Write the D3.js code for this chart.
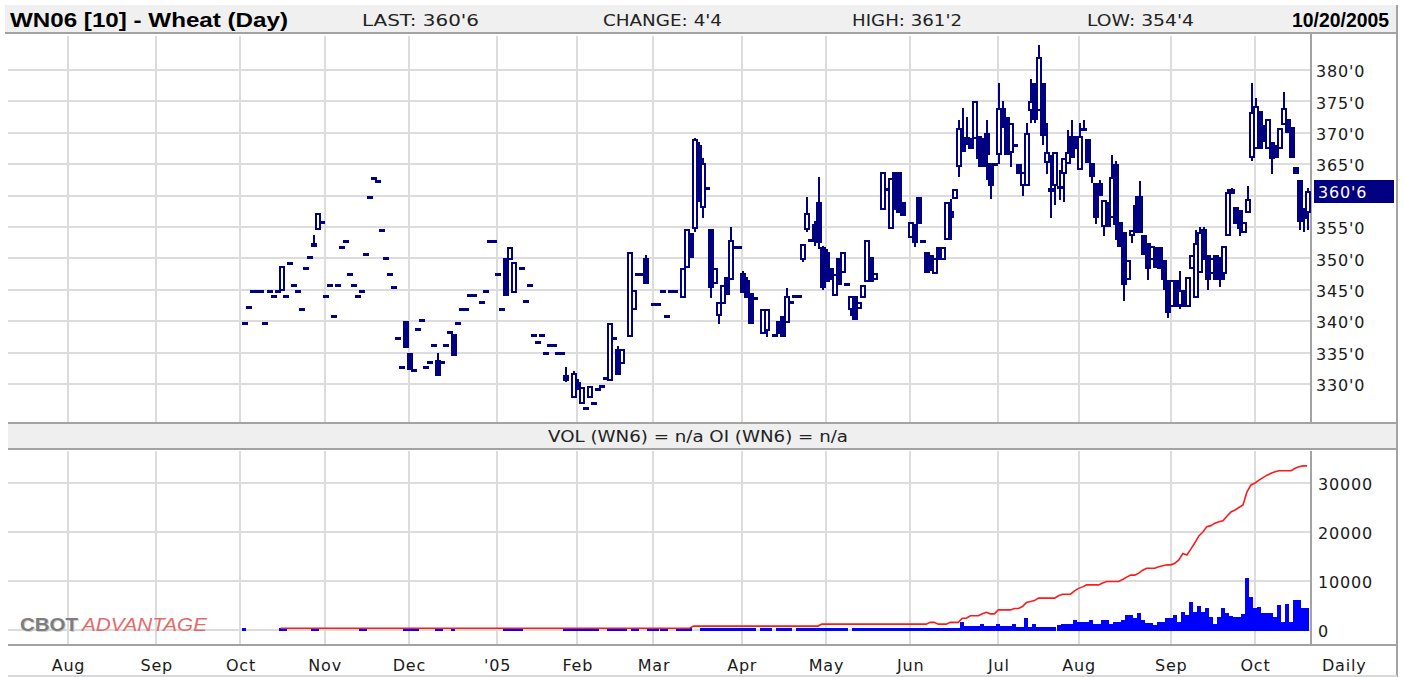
<!DOCTYPE html>
<html>
<head>
<meta charset="utf-8">
<script src="https://cdn.jsdelivr.net/npm/d3@7"></script>
<style>
html, body { margin: 0; padding: 0; background: #fff; }
svg { display: block; font-family: "DejaVu Sans", Verdana, sans-serif; }
</style>
</head>
<body>
<svg id="chart" width="1404" height="677"></svg>
<script>
// trading-day index (0 = Jul 1 2004) of each month start, and its label
var monthStarts = [21, 43, 64, 85, 106, 128, 148, 167, 189, 210, 231, 253, 273, 296, 317];
var monthLabels = ["Aug", "Sep", "Oct", "Nov", "Dec", "'05", "Feb", "Mar", "Apr", "May", "Jun", "Jul", "Aug", "Sep", "Oct"];

var priceTicks = [330, 335, 340, 345, 350, 355, 365, 370, 375, 380];
var volTicks = [0, 10000, 20000, 30000];
var lastPrice = 360.75;

// daily bars: number = one trade price, [open, close], or [open, high, low, close]
var px_oct04 = [null, 339.75, 342.25, 344.75, 344.75, 344.75, 339.75, 344.75, 344, 344.75, [344.75, 348.75], 344, 349.25, 345.75, 344.75, 342, 348.5, 350.25, [351.75, 353.75, 351.75, 352.5], [354.5, 357.25], 355.75];
var px_nov04 = [344, 345.75, 340.75, 345.75, 351.75, 352.75, 347.5, 345.75, 344, 344.75, 350.75, 359.75, 362.75, 362.25, 354.5, 350, 347.5, 345.5, 337.25, 332.75, [340, 335.75]];
var px_dec04 = [[335, 332.25], 332.25, 338.75, 340.25, 332.75, 333.5, 336.25, [333.75, 335, 331.25, 331.25], 333.5, 336.25, 338.25, [338, 334.5], 339.75, 342, 342, 344.25, 344.25, null, 343, 344.75, 352.75, 352.75];
var px_jan05 = [347.5, 342, [350, 344], [349.75, 351.75], [344.5, 349.5], null, 348.5, 343.25, 345.75, 337.75, 336.75, 337.75, 335, 336.25, 336.25, 335, 335, [331.5, 332.75, 330.25, 330.5], null, [327.75, 332, 327.75, 331.75]];
var px_feb05 = [[330.25, 330.75, 329, 329], [326.75, 329.5], 326.25, [327.75, 329.75], 327, 329.25, 329.75, 331, [330.5, 339.75], 337.25, [335.5, 336, 331.5, 331.5], [333.25, 335.5], null, [337.5, 351], [341.75, 345], 347.5, 347.5, [350, 350.5, 346, 346], null];
var px_mar05 = [342.75, 342.75, 344.75, 340.75, 344.75, 344.75, null, [343.75, 348.5], [348.5, 354.75], [354, 350], [354.75, 369.25, 354.25, 369], [368, 368.5, 359, 359.5], [358, 366, 356.5, 365.25], 361.25, [354.75, 354.75, 343.75, 345.25], [346, 348.5], [340.75, 343, 339.5, 343], [342.75, 345.75], [347, 344.25], [346.5, 355, 346.5, 353], 351.75, 351.75];
var px_apr05 = [[347.75, 348, 344.5, 344.5], [346.5, 347, 343.75, 343.75], [344.5, 339.5], 343.75, null, [338, 342], [338.5, 342, 337.5, 342], null, 337.75, [340, 338], [340.75, 337.5], [339.75, 345.25, 339.75, 344], 343, 344, 344, [349.75, 352.25, 349.5, 352.25], [354.5, 359.75, 354.25, 357.25], 353, [355.5, 356, 352, 352.75], [359, 363, 351.5, 352.5], [351.75, 352, 345, 345.25]];
var px_may05 = [[351, 351.5, 346.25, 346.25], [348.5, 346.5], [344, 347.5], [350, 345.75], [347.75, 351], 346, [341.75, 344, 340.75, 344], [344, 340.25], [342, 343], [343.75, 345.75], [346.25, 353], [350.25, 346.25], [346.5, 347.75], null, [357.75, 363.75], 361, [354.75, 362.75], [363.75, 357.75], [363.75, 357.25], [359, 356.75], null];
var px_jun05 = [[353.25, 355.75], [355.5, 355.5, 351.75, 352.5], [359.75, 355.5], 352.75, [351, 347.75], [350.5, 348], [347.5, 350], [351.75, 349.75], [349.75, 351.75], [353, 359], [357.5, 359.5, 353, 356.5], [359.5, 361], [364.5, 372, 363, 370.75], [369.25, 374, 367, 367], [369.25, 372.5, 368, 369], [369.25, 367.5], [369, 375], [369.5, 369.5, 364.5, 365.75], [369.25, 364.5], [370, 372, 362.5, 366.5], [365.25, 365.25, 359.5, 361.5], 365];
var px_jul05 = [[366.5, 378, 365, 374], [374, 375, 370.75, 370.75], [372.5, 366.5], [366.75, 371.5, 364.5, 371.5], 368, [365, 363.5], [361.5, 363.75, 360, 363.75], [361.5, 371.5, 361.5, 370], [373.5, 378.5, 371.5, 375], [378, 378, 371.5, 372], [373.5, 384, 373.5, 382], [378, 378, 368, 369.5], [365.25, 371.5, 363.5, 367], [361.25, 366.5, 356.5, 360.5], [361.5, 367, 358.5, 367], [361.5, 364, 359.25, 361], [363.5, 366, 359, 366], [365, 370.5, 365, 367], [369.5, 372, 366, 366], [369.5, 367.5]];
var px_aug05 = [[364, 371.5, 364, 369.5], [370.25, 372, 370.25, 370.75], [369, 365.25], [365.25, 365.25, 362, 363], [362, 362, 355.5, 356.5], [362, 362.5, 360, 360], [355, 359.25, 353.5, 359.25], [359, 355], [356.5, 366.5, 356.5, 363], [365, 365.5, 353, 355.25], [355.75, 351.75], [354.25, 354.25, 343.25, 345.75], [346.5, 349.75], [353.5, 354.5, 352.5, 354.5], [358.5, 360, 354, 354], [360, 362.25, 354, 354], [353.75, 350.5], [352.5, 352.5, 346.5, 348.25], [349.75, 352], [351.75, 348.5], [351.75, 348.25], [349.75, 349.75, 345, 346.5], [346.5, 346.5, 340.5, 341.25]];
var px_sep05 = [[342.25, 346.5], [346.5, 342.25], [342.5, 348, 342, 345], [345, 342.25], [342.25, 347], [348.25, 350.5], [343.75, 354.5, 343.75, 352.5], [347.75, 355, 347.75, 354.25], [354.75, 355, 349.75, 349.75], [350.5, 350.5, 345, 346.5], [347.5, 350], [350.5, 346.5], [350.25, 350.25, 345.5, 346.5], [347.5, 352, 346.5, 352], [353.5, 361, 353.5, 360.5], [361, 361.25, 360.25, 360.25], [358.25, 355.5], [357.75, 357.75, 353.5, 354.75], [354, 355.75], [357.25, 361.5, 357.25, 359.5], [366, 378, 365.5, 373.25]];
var px_oct05 = [[367.5, 375.5, 367.5, 374.25], [373.5, 367.5], [371.25, 368.5], [367.5, 372.25], [368.5, 368.5, 363.5, 365.75], [368, 366], [367.5, 370.75], [371.25, 376.5, 371.25, 374], [372.25, 370], [371, 366], [364.5, 363.5], [362.5, 362.5, 354.5, 355.75], [357.75, 358, 354.25, 356.25], [357.25, 361.25, 354.5, 360.75]];

// daily volume
var vol_oct04 = [0, 500, 0, 0, 0, 0, 0, 0, 0, 0, 500, 500, 0, 0, 0, 0, 0, 0, 500, 500, 0];
var vol_nov04 = [0, 0, 0, 0, 0, 0, 0, 0, 0, 500, 500, 0, 0, 0, 0, 0, 0, 0, 0, 0, 500];
var vol_dec04 = [500, 500, 500, 0, 0, 0, 0, 500, 500, 0, 0, 500, 0, 0, 0, 0, 0, 0, 0, 0, 0, 0];
var vol_jan05 = [0, 0, 500, 500, 500, 500, 500, 0, 0, 0, 0, 0, 0, 0, 0, 0, 0, 500, 500, 500];
var vol_feb05 = [500, 500, 500, 500, 500, 500, 0, 0, 500, 500, 500, 500, 500, 0, 500, 500, 0, 0, 500];
var vol_mar05 = [500, 500, 500, 500, 0, 0, 500, 500, 500, 500, 0, 0, 500, 500, 500, 500, 500, 500, 500, 500, 500, 500];
var vol_apr05 = [500, 500, 500, 500, 0, 500, 500, 500, 0, 500, 500, 500, 500, 0, 500, 500, 500, 500, 500, 500, 500];
var vol_may05 = [500, 500, 500, 500, 500, 500, 0, 500, 500, 500, 500, 500, 500, 500, 500, 500, 500, 500, 500, 500, 500];
var vol_jun05 = [500, 500, 500, 500, 500, 500, 500, 500, 500, 500, 500, 500, 500, 1700, 900, 900, 900, 900, 1300, 900, 900, 900];
var vol_jul05 = [1300, 900, 900, 900, 1300, 700, 700, 2500, 700, 1300, 700, 700, 700, 700, 700, 1000, 1300, 1300, 1300, 2000];
var vol_aug05 = [1700, 1700, 1700, 2000, 1300, 1300, 2000, 2000, 1300, 1600, 1600, 2000, 3000, 3000, 2400, 3400, 2000, 1500, 1500, 1000, 1600, 1600, 2400];
var vol_sep05 = [2400, 3000, 1600, 3700, 3000, 5800, 3700, 4800, 3700, 4400, 2700, 1300, 2700, 4500, 3400, 2900, 2700, 2700, 3300, 10700, 6800];
var vol_oct05 = [4400, 4600, 3400, 3400, 3400, 2700, 5100, 1700, 5400, 1700, 6100, 6100, 4400, 4400];

// daily open interest
var oi_oct04 = [null, null, null, null, null, null, null, null, null, null, 350, 350, 350, 350, 350, 350, 350, 350, 350, 350, 350];
var oi_nov04 = [350, 350, 350, 350, 350, 350, 350, 350, 350, 350, 350, 350, 350, 350, 350, 350, 350, 350, 350, 350, 350];
var oi_dec04 = [350, 350, 350, 350, 350, 350, 350, 350, 350, 350, 350, 350, 350, 350, 350, 350, 350, 350, 350, 350, 350, 350];
var oi_jan05 = [350, 350, 350, 350, 350, 350, 350, 350, 350, 350, 350, 350, 350, 350, 350, 350, 350, 350, 350, 350];
var oi_feb05 = [350, 350, 350, 350, 350, 350, 350, 350, 350, 350, 350, 350, 350, 350, 350, 350, 350, 350, 350];
var oi_mar05 = [350, 350, 350, 350, 350, 350, 350, 350, 350, 350, 800, 800, 800, 800, 800, 800, 800, 800, 800, 800, 800, 800];
var oi_apr05 = [800, 800, 800, 800, 800, 800, 800, 800, 800, 800, 800, 800, 800, 800, 800, 800, 800, 800, 800, 800, 1200];
var oi_may05 = [1200, 1200, 1200, 1200, 1200, 1200, 1200, 1200, 1200, 1200, 1200, 1200, 1200, 1200, 1200, 1200, 1200, 1200, 1200, 1200, 1200];
var oi_jun05 = [1200, 1200, 1200, 1200, 1200, 1560, 1560, 1200, 1200, 1200, 1560, 1560, 1560, 2400, 2400, 2900, 2900, 2900, 3300, 3600, 3300, 3300];
var oi_jul05 = [4100, 4100, 4100, 4100, 4400, 4400, 4800, 5600, 5800, 6000, 6500, 6500, 6500, 6500, 6500, 7000, 7300, 7300, 7300, 8000];
var oi_aug05 = [8500, 8800, 9200, 9200, 9200, 9200, 9600, 9900, 9900, 9900, 9900, 10300, 10800, 11200, 11200, 11600, 12200, 12600, 12600, 12600, 12900, 13100, 13300];
var oi_sep05 = [13300, 13600, 14300, 15600, 15300, 16500, 17800, 19200, 20000, 21100, 21300, 21800, 22100, 22300, 23200, 24100, 24500, 25000, 25500, 28200, 29600];
var oi_oct05 = [30000, 30600, 31100, 31600, 32000, 32300, 32500, 32500, 32500, 32500, 33000, 33300, 33500, 33500];

// month blocks: first trading-day index of each data month
var blockStarts = [64, 85, 106, 128, 148, 167, 189, 210, 231, 253, 273, 296, 317];
var priceBlocks = [px_oct04, px_nov04, px_dec04, px_jan05, px_feb05, px_mar05, px_apr05, px_may05, px_jun05, px_jul05, px_aug05, px_sep05, px_oct05];
var volBlocks = [vol_oct04, vol_nov04, vol_dec04, vol_jan05, vol_feb05, vol_mar05, vol_apr05, vol_may05, vol_jun05, vol_jul05, vol_aug05, vol_sep05, vol_oct05];
var oiBlocks = [oi_oct04, oi_nov04, oi_dec04, oi_jan05, oi_feb05, oi_mar05, oi_apr05, oi_may05, oi_jun05, oi_jul05, oi_aug05, oi_sep05, oi_oct05];

var navy = "#000080",
    gridColor = "#dcdcdc",
    frameColor = "#a3a3a3";

var plotLeft = 8, plotRight = 1311, rightEdge = 1397,
    mainTop = 34, mainBottom = 423, volTop = 449, volBottom = 645;

var x = d3.scaleLinear().domain([21, 317]).range([68, 1255]);
var yP = d3.scaleLinear().domain([330, 380]).range([384, 70]);
var yV = d3.scaleLinear().domain([0, 30000]).range([630, 483]);

function toBar(v, i) {
    if (v === null || v === undefined) { return null; }
    if (typeof v === "number") { return {i: i, o: v, h: v, l: v, c: v}; }
    if (v.length === 2) { return {i: i, o: v[0], h: Math.max(v[0], v[1]), l: Math.min(v[0], v[1]), c: v[1]}; }
    return {i: i, o: v[0], h: v[1], l: v[2], c: v[3]};
}

var bars = [], vols = [], ois = [];
blockStarts.forEach(function (start, b) {
    priceBlocks[b].forEach(function (v, k) {
        var bar = toBar(v, start + k);
        if (bar) { bars.push(bar); }
    });
    volBlocks[b].forEach(function (v, k) {
        if (v > 0) { vols.push({i: start + k, v: v}); }
    });
    oiBlocks[b].forEach(function (v, k) {
        if (v !== null) { ois.push({i: start + k, v: v}); }
    });
});

var svg = d3.select("#chart");
var fmtPrice = function (p) {
    var whole = Math.floor(p);
    return whole + "'" + Math.round((p - whole) * 8);
};

// header band
svg.append("rect").attr("x", 5).attr("y", 5).attr("width", rightEdge - 5).attr("height", 28).attr("fill", "#f0f0f0");
svg.append("line").attr("x1", 5).attr("x2", rightEdge).attr("y1", 33).attr("y2", 33)
    .attr("stroke", frameColor).attr("stroke-width", 2);

var header = [
    {t: "WN06 [10] - Wheat (Day)", x: 10, w: 278, bold: true, size: 20},
    {t: "LAST: 360'6", x: 362, w: 117, bold: false, size: 15},
    {t: "CHANGE: 4'4", x: 603, w: 119, bold: false, size: 15},
    {t: "HIGH: 361'2", x: 852, w: 110, bold: false, size: 15},
    {t: "LOW: 354'4", x: 1087, w: 107, bold: false, size: 15},
    {t: "10/20/2005", x: 1292, w: 97, bold: true, size: 20}
];
svg.append("g").selectAll("text").data(header).enter().append("text")
    .attr("x", function (d) { return d.x; })
    .attr("y", function (d) { return d.bold ? 27 : 26; })
    .attr("textLength", function (d) { return d.w; })
    .attr("lengthAdjust", "spacingAndGlyphs")
    .attr("font-family", function (d) { return d.bold ? "'Liberation Sans Narrow', 'Liberation Sans', Arial, sans-serif" : null; })
    .attr("font-size", function (d) { return d.size; })
    .attr("font-weight", function (d) { return d.bold ? "bold" : "normal"; })
    .attr("fill", function (d) { return d.bold ? "#000" : "#222"; })
    .text(function (d) { return d.t; });

// volume band
svg.append("rect").attr("x", plotLeft).attr("y", mainBottom).attr("width", rightEdge - plotLeft).attr("height", volTop - mainBottom)
    .attr("fill", "#efefef");
svg.append("text").attr("x", 698).attr("y", 442).attr("text-anchor", "middle")
    .attr("font-size", 15).attr("fill", "#222").attr("textLength", 300).attr("lengthAdjust", "spacingAndGlyphs")
    .text("VOL (WN6) = n/a OI (WN6) = n/a");

// gridlines
var grid = svg.append("g").attr("shape-rendering", "crispEdges").attr("stroke", gridColor).attr("stroke-width", 2);
monthStarts.forEach(function (m) {
    grid.append("line").attr("x1", x(m)).attr("x2", x(m)).attr("y1", mainTop + 2).attr("y2", mainBottom);
    grid.append("line").attr("x1", x(m)).attr("x2", x(m)).attr("y1", volTop + 2).attr("y2", volBottom);
});
priceTicks.concat([360]).forEach(function (p) {
    grid.append("line").attr("x1", plotLeft).attr("x2", plotRight).attr("y1", yP(p)).attr("y2", yP(p));
});
volTicks.forEach(function (v) {
    grid.append("line").attr("x1", plotLeft).attr("x2", plotRight).attr("y1", yV(v)).attr("y2", yV(v));
});

// watermark
var wm = svg.append("g").attr("font-family", "'Liberation Sans', Arial, sans-serif").attr("font-size", 18);
wm.append("text").attr("x", 21).attr("y", 632).attr("fill", "#d0d0d0").attr("font-weight", "bold")
    .attr("textLength", 58).attr("lengthAdjust", "spacingAndGlyphs").text("CBOT");
wm.append("text").attr("x", 20).attr("y", 631).attr("fill", "#7d7d7d").attr("font-weight", "bold")
    .attr("textLength", 58).attr("lengthAdjust", "spacingAndGlyphs").text("CBOT");
wm.append("text").attr("x", 82).attr("y", 631).attr("fill", "#e46a6a").attr("font-style", "italic")
    .attr("textLength", 125).attr("lengthAdjust", "spacingAndGlyphs").text("ADVANTAGE");

// frame lines
var frame = svg.append("g").attr("stroke", frameColor).attr("stroke-width", 2).attr("shape-rendering", "crispEdges");
frame.append("line").attr("x1", plotRight).attr("x2", plotRight).attr("y1", mainTop).attr("y2", mainBottom);
frame.append("line").attr("x1", plotRight).attr("x2", plotRight).attr("y1", volTop + 2).attr("y2", volBottom);
frame.append("line").attr("x1", plotLeft).attr("x2", rightEdge).attr("y1", mainBottom).attr("y2", mainBottom);
frame.append("line").attr("x1", plotLeft).attr("x2", rightEdge).attr("y1", volTop).attr("y2", volTop);
frame.append("line").attr("x1", plotLeft).attr("x2", rightEdge).attr("y1", volBottom).attr("y2", volBottom);
frame.append("line").attr("x1", rightEdge).attr("x2", rightEdge).attr("y1", 5).attr("y2", 677);
frame.append("line").attr("x1", plotLeft).attr("x2", rightEdge).attr("y1", 676).attr("y2", 676).attr("stroke", "#d8d8d8");

// volume bars
svg.append("g").attr("shape-rendering", "crispEdges").selectAll("rect").data(vols).enter().append("rect")
    .attr("x", function (d) { return Math.round(x(d.i)) - 2; })
    .attr("width", 4)
    .attr("y", function (d) { return yV(d.v); })
    .attr("height", function (d) { return yV(0) - yV(d.v) + 1; })
    .attr("fill", "#0000ff");

// open interest
svg.append("path").datum(ois)
    .attr("fill", "none").attr("stroke", "#ff1a1a").attr("stroke-width", 1.6)
    .attr("d", d3.line().x(function (d) { return x(d.i); }).y(function (d) { return yV(d.v); }));

// candles: wick, then navy body, then white core for rising days
var candles = svg.append("g").attr("shape-rendering", "crispEdges");
candles.selectAll("line").data(bars.filter(function (d) { return d.h > Math.max(d.o, d.c) || d.l < Math.min(d.o, d.c); }))
    .enter().append("line")
    .attr("x1", function (d) { return Math.round(x(d.i)) + 1; })
    .attr("x2", function (d) { return Math.round(x(d.i)) + 1; })
    .attr("y1", function (d) { return yP(d.h); })
    .attr("y2", function (d) { return yP(d.l); })
    .attr("stroke", navy).attr("stroke-width", 2);

bars.forEach(function (d) {
    var cx = Math.round(x(d.i)),
        top = Math.round(yP(Math.max(d.o, d.c))),
        bot = Math.round(yP(Math.min(d.o, d.c))),
        hollow = d.c > d.o && bot - top >= 5,
        h = Math.max(bot - top, 3),
        mid = (top + bot) / 2;
    if (hollow) {
        candles.append("rect").attr("x", cx - 2).attr("y", top).attr("width", 6).attr("height", bot - top)
            .attr("fill", navy);
        candles.append("rect").attr("x", cx).attr("y", top + 2).attr("width", 2).attr("height", bot - top - 4)
            .attr("fill", "#fff");
    } else {
        candles.append("rect").attr("x", cx - 2).attr("y", Math.round(mid - h / 2)).attr("width", 6).attr("height", h)
            .attr("fill", navy);
    }
});

// axes
var axisFont = "DejaVu Sans, Verdana, sans-serif";
var yAxis = svg.append("g").attr("transform", "translate(" + plotRight + ",0)")
    .call(d3.axisRight(yP).tickValues(priceTicks).tickSize(0).tickPadding(5).tickFormat(fmtPrice));
var vAxis = svg.append("g").attr("transform", "translate(" + plotRight + ",0)")
    .call(d3.axisRight(yV).tickValues(volTicks).tickSize(0).tickPadding(7).tickFormat(d3.format("d")));
var xAxis = svg.append("g").attr("transform", "translate(0," + (volBottom + 11) + ")")
    .call(d3.axisBottom(x).tickValues(monthStarts).tickSize(0).tickPadding(0)
        .tickFormat(function (d, i) { return monthLabels[i]; }));
[yAxis, vAxis, xAxis].forEach(function (a) {
    a.select(".domain").remove();
    a.selectAll("text").attr("font-family", axisFont).attr("font-size", 16).attr("fill", "#1a1a1a")
        .attr("letter-spacing", 0.8);
});
yAxis.selectAll("text").attr("dy", "0.42em");
vAxis.selectAll("text").attr("dy", "0.42em");
xAxis.selectAll("text").attr("dy", "0.95em");

svg.append("text").attr("x", 1322).attr("y", 671).attr("font-family", axisFont).attr("font-size", 16)
    .attr("letter-spacing", 0.8).attr("fill", "#1a1a1a").text("Daily");

// last price marker
var lastG = svg.append("g").attr("transform", "translate(1314," + Math.round(yP(lastPrice)) + ")");
lastG.append("rect").attr("x", 0).attr("y", -11).attr("width", 80).attr("height", 23).attr("fill", navy);
lastG.append("text").attr("x", 4).attr("y", 0).attr("dy", "0.42em").attr("font-family", axisFont)
    .attr("font-size", 16).attr("letter-spacing", 0.8).attr("fill", "#fff").text(fmtPrice(lastPrice));
</script>
</body>
</html>
